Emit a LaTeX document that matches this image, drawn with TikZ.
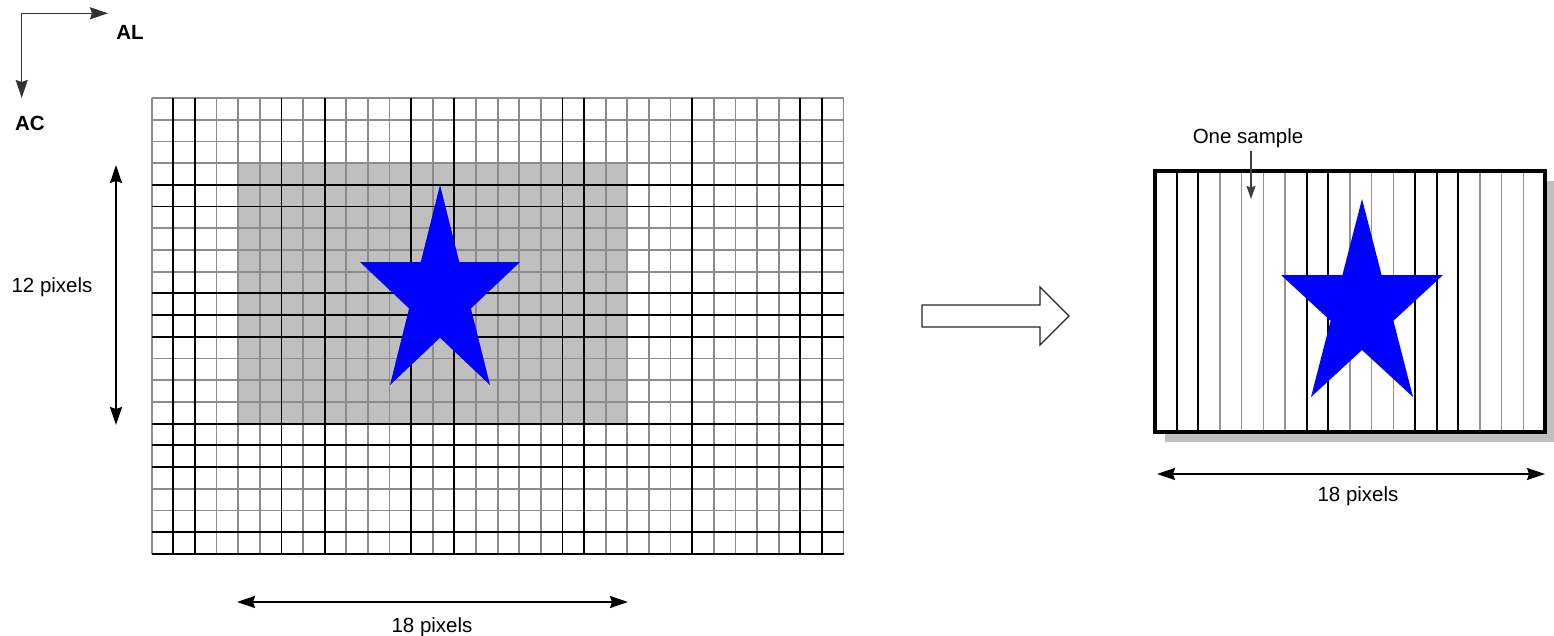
\documentclass[tikz,border=0pt]{standalone}
\usepackage{fontspec}
\setmainfont{Liberation Sans}
\usetikzlibrary{arrows.meta}
\begin{document}
\begin{tikzpicture}[x=1pt,y=-1pt,
  lbl/.style={font=\fontsize{20.5}{24}\selectfont, inner sep=0pt, anchor=base},
  boldlbl/.style={font=\fontsize{20.5}{24}\selectfont\bfseries, inner sep=0pt, anchor=base},
  dimarrow/.style={line width=1.6pt, {Stealth[length=18pt,width=12pt,inset=2pt]}-{Stealth[length=18pt,width=12pt,inset=2pt]}},
  axisarrow/.style={line width=1.5pt, draw=black!80, -{Stealth[length=18pt,width=12pt,inset=2pt]}},
  samplearrow/.style={line width=1.2pt, draw=black!75, -{Stealth[length=13pt,width=9pt,inset=1.5pt]}},
  gridthin/.style={draw=gray!90, line width=1.8pt},
  gridthick/.style={draw=black, line width=1.8pt},
  colthin/.style={draw=gray!85, line width=1.6pt},
  colthick/.style={draw=black, line width=1.8pt},
  starfill/.style={fill=blue, draw=none},
  graybox/.style={fill=black!25, draw=none},
  hollow/.style={draw=black!85, line width=1.3pt, fill=white}
]
\useasboundingbox (0,0) rectangle (1554,636);

% ---------- axes ----------
\coordinate (corner) at (21.7,13.3);
\coordinate (alend) at (108,13.3);
\coordinate (acend) at (21.7,98);
\draw[axisarrow] (corner) -- (alend);
\draw[axisarrow] (corner) -- (acend);
\node[boldlbl] (AL) at (130,39.5) {AL};
\node[boldlbl] (AC) at (30,131) {AC};

% ---------- left grid ----------
\def\gx{151.7}\def\gy{98}\def\cw{21.62}\def\rh{21.71}
\fill[graybox] (\gx+4*\cw,\gy+3*\rh) rectangle (\gx+22*\cw,\gy+15*\rh);
\foreach \i in {0,3,4,5,7,9,10,11,13,15,16,17,18,21,22,23,24,26,27,28,29,32}
  \draw[gridthin] (\gx+\i*\cw,\gy) -- (\gx+\i*\cw,\gy+21*\rh);
\foreach \j in {0,1,2,3,6,7,8,12,13,14,18,19}
  \draw[gridthin] (\gx,\gy+\j*\rh) -- (\gx+32*\cw,\gy+\j*\rh);
\foreach \i in {1,2,6,8,12,14,19,20,25,30,31}
  \draw[gridthick] (\gx+\i*\cw,\gy) -- (\gx+\i*\cw,\gy+21*\rh);
\foreach \j in {4,5,9,10,11,15,16,17,20,21}
  \draw[gridthick] (\gx,\gy+\j*\rh) -- (\gx+32*\cw,\gy+\j*\rh);

% left star
\fill[starfill] (440,185) -- (459.25,262) -- (520,262) -- (470.9,308.5) -- (490,385)
  -- (440,337.7) -- (390,385) -- (409.1,308.5) -- (360,262) -- (420.75,262) -- cycle;

% dimension arrows (left)
\coordinate (vtop) at (116,165);
\coordinate (vbot) at (116,425);
\draw[dimarrow] (vtop) -- (vbot);
\node[lbl] (twelve) at (52,292) {12 pixels};
\coordinate (hl) at (237,602);
\coordinate (hr) at (628,602);
\draw[dimarrow] (hl) -- (hr);
\node[lbl] (eighteenL) at (432,632) {18 pixels};

% ---------- hollow arrow ----------
\draw[hollow] (922,305) -- (1040,305) -- (1040,287) -- (1069,316) -- (1040,345)
  -- (1040,327) -- (922,327) -- cycle;

% ---------- right panel ----------
\def\bx{1155}\def\by{171}\def\bw{21.667}\def\bb{432}
\fill[graybox] (1165,181) rectangle (1554,442);
\fill[white] (\bx,\by) rectangle (1545,\bb);
\foreach \i in {3,4,5,6,9,10,11,15,16,17}
  \draw[colthin] (\bx+\i*\bw,\by) -- (\bx+\i*\bw,\bb);
\foreach \i in {1,2,7,8,12,13,14}
  \draw[colthick] (\bx+\i*\bw,\by) -- (\bx+\i*\bw,\bb);
% right star
\fill[starfill] (1362,199) -- (1381.6,275) -- (1443,275) -- (1393.4,320.8) -- (1413,397)
  -- (1362,350) -- (1311,397) -- (1330.6,320.8) -- (1281,275) -- (1342.4,275) -- cycle;
\draw[line width=4pt, line join=miter] (\bx,\by) rectangle (1545,\bb);

\node[lbl] (onesample) at (1248,144) {One sample};
\coordinate (sstart) at (1251,151);
\coordinate (send) at (1251,199);
\draw[samplearrow] (sstart) -- (send);

\coordinate (rl) at (1157,474);
\coordinate (rr) at (1545,474);
\draw[dimarrow] (rl) -- (rr);
\node[lbl] (eighteenR) at (1358,501) {18 pixels};
\end{tikzpicture}
\end{document}
